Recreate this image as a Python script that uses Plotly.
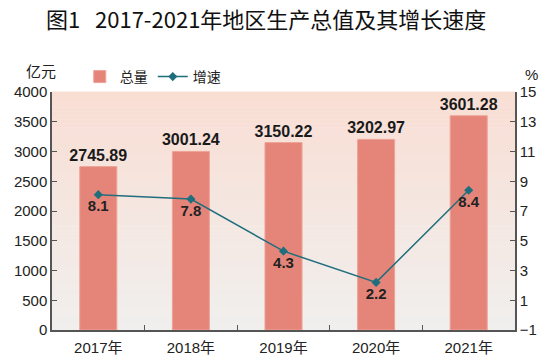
import plotly.graph_objects as go

years = ["2017年", "2018年", "2019年", "2020年", "2021年"]
gdp = [2745.89, 3001.24, 3150.22, 3202.97, 3601.28]
growth = [8.1, 7.8, 4.3, 2.2, 8.4]
left_ticks = [0, 500, 1000, 1500, 2000, 2500, 3000, 3500, 4000]
right_ticks = [-1, 1, 3, 5, 7, 9, 11, 13, 15]

FONT = "Liberation Sans, Arial, Noto Sans CJK SC"

fig = go.Figure()
fig.add_trace(go.Bar(
    x=years, y=gdp, name="总量",
    marker=dict(color="#e5857a", line=dict(color="#eea396", width=1)),
    text=[f"{v:.2f}" for v in gdp], textposition="outside", constraintext="none",
    textfont=dict(family=FONT, size=16, color="#1a1a1a", weight="bold"),
    cliponaxis=False, yaxis="y",
))
fig.add_trace(go.Scatter(
    x=years, y=growth, name="增速", mode="lines+markers+text",
    line=dict(color="#1f6e7d", width=1.5),
    marker=dict(symbol="diamond", size=7, color="#1f6e7d"),
    text=[f"{v:.1f}" for v in growth], textposition="bottom center",
    textfont=dict(family=FONT, size=15, color="#222222", weight="bold"),
    yaxis="y2", cliponaxis=False,
))

# vertical gradient background
n = 60
top = (249, 222, 212)
bot = (240, 239, 238)
shapes = []
for i in range(n):
    t = i / (n - 1)
    c = tuple(round(bot[k] + (top[k] - bot[k]) * t) for k in range(3))
    shapes.append(dict(type="rect", xref="paper", yref="paper",
                       x0=0, x1=1, y0=i / n, y1=(i + 1) / n + 0.002,
                       fillcolor=f"rgb{c}", line=dict(width=0), layer="below"))

fig.update_layout(
    width=550, height=361,
    margin=dict(l=52, r=35, t=92, b=31),
    paper_bgcolor="white", plot_bgcolor="rgba(0,0,0,0)",
    font=dict(family=FONT, size=15, color="#222222"),
    title=dict(text="图1   2017-2021年地区生产总值及其增长速度",
               x=0.484, xanchor="center", y=0.943, yanchor="middle",
               font=dict(family="Noto Sans CJK SC, Liberation Sans", size=22,
                         color="#111111")),
    bargap=0.6,
    showlegend=True,
    legend=dict(orientation="h", x=0.06, y=1.063, xanchor="left", yanchor="middle",
                bgcolor="rgba(0,0,0,0)", font=dict(size=14, family="Noto Sans CJK SC"),
                itemwidth=30),
    xaxis=dict(showline=True, linecolor="#555555", linewidth=1.5, automargin=False,
               ticks="inside", ticklen=5, tickcolor="#555555", tickson="boundaries",
               ticklabelstandoff=3, tickfont=dict(size=15), showgrid=False),
    yaxis=dict(range=[0, 4000], tickvals=left_ticks, showgrid=False, zeroline=False,
               showline=True, linecolor="#555555", linewidth=1.5,
               ticks="inside", ticklen=5, tickcolor="#555555",
               automargin=False, tickfont=dict(size=15)),
    yaxis2=dict(range=[-1, 15], tickvals=right_ticks, overlaying="y", side="right",
                showgrid=False, zeroline=False, showline=True, linecolor="#555555",
                linewidth=1.5, ticks="inside", ticklen=5, tickcolor="#555555",
                automargin=False, tickfont=dict(size=15)),
    shapes=shapes,
    annotations=[
        dict(text="亿元", xref="paper", yref="paper", x=-0.024, y=1.092,
             showarrow=False, xanchor="center", yanchor="middle",
             font=dict(size=15, family="Noto Sans CJK SC")),
        dict(text="%", xref="paper", yref="paper", x=1.035, y=1.075,
             showarrow=False, xanchor="center", yanchor="middle", font=dict(size=15)),
    ],
)

fig.write_html("out.html", config={"displayModeBar": False},
               post_script="document.body.style.margin='0';")
